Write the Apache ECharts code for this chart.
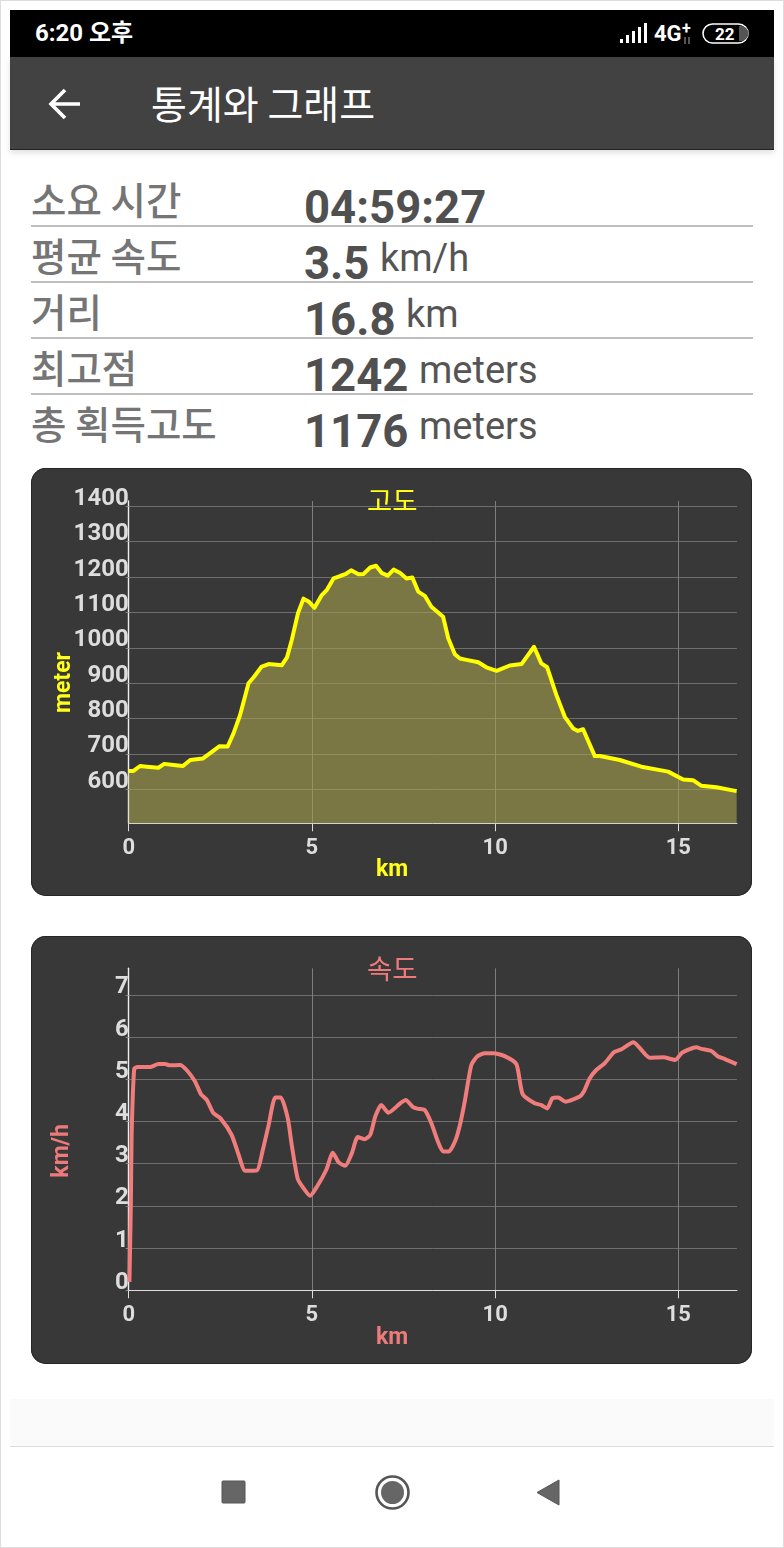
<!DOCTYPE html>
<html><head><meta charset="utf-8">
<script src="https://cdn.jsdelivr.net/npm/echarts@6/dist/echarts.min.js"></script>
<style>
html,body{margin:0;padding:0;background:#fff}
#page{position:relative;width:784px;height:1548px;overflow:hidden;background:#fff;font-family:Roboto,"Noto Sans CJK KR",sans-serif}
#frame{position:absolute;left:0;top:0;width:782px;height:1546px;border:1px solid #ddd;pointer-events:none}
.abs{position:absolute;white-space:nowrap}
.lab{font-family:"Noto Sans CJK KR";font-weight:500;font-size:38.5px;color:#757575;left:31px;line-height:48px;height:48px}
.val{font-family:Roboto;font-weight:700;font-size:45.5px;color:#505050;left:304px;line-height:50px;height:50px}
.unit{font-family:Roboto;font-size:38px;color:#555;line-height:44px;height:44px}
.rule{left:31px;width:722px;height:2px;background:#bdbdbd}
.card{position:absolute;left:31px;width:721px;height:428px;background:#383838;border-radius:15px;box-shadow:inset 0 0 0 1px #262626}
.chart{position:absolute;left:0;top:0;width:721px;height:428px}
</style></head><body>
<div id="page">
  <div class="abs" style="left:10px;top:10px;width:764px;height:47px;background:#000"></div>
  <div class="abs" style="left:10px;top:57px;width:764px;height:92px;background:#424242;border-bottom:1px solid #222;box-shadow:0 3px 6px rgba(0,0,0,.12)"></div>
  <div class="abs" style="left:35px;top:16px;font:700 24px/34px Roboto,'Noto Sans CJK KR';color:#fff">6:20 오후</div>
  <svg class="abs" style="left:618px;top:20px" width="140" height="28" viewBox="0 0 140 28">
    <g fill="#fff"><rect x="2" y="19" width="3" height="4"/><rect x="8" y="15" width="3" height="8"/><rect x="14" y="11" width="3" height="12"/><rect x="20" y="7" width="3" height="16"/><rect x="26" y="3" width="3" height="20"/></g>
    <text x="36" y="21" fill="#fff" font-family="Roboto" font-weight="700" font-size="22">4G</text>
    <text x="64" y="14" fill="#fff" font-family="Roboto" font-weight="700" font-size="16">+</text>
    <path d="M67 17v7M71 17v7" stroke="#aaa" stroke-width="1"/>
    <rect x="85" y="4" width="45" height="19" rx="9.5" fill="none" stroke="#fff" stroke-width="1.6"/>
    <path d="M121 6h2a7.5 7.5 0 0 1 0 15h-2z" fill="#555"/>
    <text x="97" y="20" fill="#fff" font-family="Roboto" font-weight="700" font-size="17">22</text>
  </svg>
  <svg class="abs" style="left:47px;top:86px" width="38" height="36" viewBox="0 0 38 36"><path d="M33 18H5M18 4L4 18l14 14" fill="none" stroke="#fff" stroke-width="3.6"/></svg>
  <div class="abs" style="left:151px;top:77px;font:400 39px/50px 'Noto Sans CJK KR';color:#fff">통계와 그래프</div>

  <div class="abs lab" style="top:174px">소요 시간</div>
  <div class="abs val" style="top:183px">04:59:27</div>
  <div class="abs rule" style="top:225px"></div>
  <div class="abs lab" style="top:230px">평균 속도</div>
  <div class="abs val" style="top:239px">3.5</div>
  <div class="abs unit" style="left:380px;top:236px">km/h</div>
  <div class="abs rule" style="top:281px"></div>
  <div class="abs lab" style="top:286px">거리</div>
  <div class="abs val" style="top:295px">16.8</div>
  <div class="abs unit" style="left:406px;top:292px">km</div>
  <div class="abs rule" style="top:337px"></div>
  <div class="abs lab" style="top:342px">최고점</div>
  <div class="abs val" style="top:351px">1242</div>
  <div class="abs unit" style="left:419px;top:348px">meters</div>
  <div class="abs rule" style="top:393px"></div>
  <div class="abs lab" style="top:398px">총 획득고도</div>
  <div class="abs val" style="top:407px">1176</div>
  <div class="abs unit" style="left:419px;top:404px">meters</div>

  <div class="card" style="top:468px"><div class="chart" id="elev"></div></div>
  <div class="card" style="top:936px"><div class="chart" id="speed"></div></div>

  <div class="abs" style="left:10px;top:1399px;width:764px;height:47px;background:#fafafa"></div>
  <div class="abs" style="left:10px;top:1446px;width:764px;height:1px;background:#ddd"></div>
  <svg class="abs" style="left:210px;top:1470px" width="370" height="44" viewBox="0 0 370 44">
    <rect x="12" y="11" width="23" height="22" rx="1" fill="#666" stroke="#555"/>
    <circle cx="182.5" cy="22.5" r="16" fill="none" stroke="#555" stroke-width="2.6"/>
    <circle cx="182.5" cy="22.5" r="11.5" fill="#666"/>
    <path d="M349 10v25L327 22.5z" fill="#666" stroke="#555" stroke-linejoin="round"/>
  </svg>
  <div id="frame"></div>
</div>
<script>
const elevKm = [0,.13,.31,.49,.81,.97,1.22,1.48,1.68,2.02,2.27,2.48,2.70,2.86,3.04,3.27,3.41,3.63,3.82,4.18,4.32,4.45,4.62,4.77,4.91,5.07,5.27,5.41,5.59,5.77,5.91,6.07,6.27,6.41,6.59,6.75,6.91,7.07,7.23,7.40,7.58,7.74,7.90,8.08,8.26,8.58,8.72,8.90,9.04,9.22,9.54,9.76,10.04,10.40,10.72,11.06,11.26,11.42,11.67,11.90,12.13,12.26,12.40,12.72,12.86,13.40,13.99,14.72,15.13,15.40,15.63,16.04,16.59];
const elevM = [652,652,666,664,661,672,669,666,683,687,706,722,721,758,810,900,917,947,954,951,973,1022,1098,1139,1131,1113,1149,1164,1196,1203,1208,1219,1208,1209,1227,1232,1211,1204,1221,1212,1196,1199,1159,1147,1116,1088,1027,982,970,966,959,945,935,950,954,1003,956,945,867,805,772,765,770,694,694,683,664,650,628,626,610,606,595];
const speedKm = [.02,.06,.08,.15,.24,.58,.81,.99,1.13,1.40,1.58,1.81,1.97,2.13,2.31,2.50,2.81,3.00,3.18,3.50,3.65,3.82,4.00,4.15,4.34,4.45,4.61,4.77,4.95,5.14,5.39,5.57,5.73,5.91,6.09,6.25,6.43,6.59,6.73,6.89,7.09,7.41,7.56,7.76,7.90,8.08,8.26,8.44,8.58,8.74,8.92,9.05,9.17,9.35,9.51,9.72,9.95,10.26,10.58,10.75,11.08,11.26,11.42,11.56,11.72,11.92,12.31,12.42,12.58,12.76,12.99,13.24,13.45,13.77,14.22,14.58,14.92,15.10,15.49,15.63,15.90,16.08,16.27,16.59];
const speedV = [.2,2.1,3.68,5.25,5.29,5.29,5.36,5.36,5.33,5.34,5.22,4.95,4.65,4.51,4.20,4.08,3.68,3.21,2.83,2.84,3.29,3.92,4.57,4.57,4.08,3.44,2.65,2.42,2.24,2.46,2.85,3.26,3.03,2.95,3.25,3.63,3.58,3.68,4.12,4.39,4.21,4.43,4.51,4.34,4.30,4.27,3.96,3.52,3.29,3.29,3.56,3.96,4.47,5.34,5.54,5.62,5.62,5.55,5.36,4.65,4.43,4.39,4.31,4.55,4.57,4.47,4.59,4.71,5.02,5.22,5.38,5.64,5.71,5.88,5.51,5.52,5.46,5.63,5.76,5.72,5.67,5.54,5.48,5.36];
const kmTicks = [0,5,10,15];
const elevTicks = [600,700,800,900,1000,1100,1200,1300,1400];
const speedTicks = [0,1,2,3,4,5,6,7];
const zip = (a,b)=>a.map((v,i)=>[v,b[i]]);

function build(o){
  return {
    animation:false,
    grid:{left:97.7,top:o.gridTop,width:608.3,height:o.gridH,containLabel:false},
    title:{text:o.title,left:331,top:14,textStyle:{color:o.color,fontFamily:'"Noto Sans CJK KR"',fontSize:27.5,fontWeight:400}},
    xAxis:{type:'value',min:0,max:16.6,
      axisLine:{show:true,onZero:false,lineStyle:{color:'#ddd',width:1}},
      axisTick:{show:true,length:8,customValues:kmTicks,lineStyle:{color:'#ddd',width:1}},
      axisLabel:{customValues:kmTicks,margin:14,color:'#ddd',fontFamily:'Roboto',fontWeight:700,fontSize:22,formatter:v=>String(v)},
      splitLine:{show:true,lineStyle:{color:'#7e7e7e',width:1}}},
    yAxis:{type:'value',min:o.yMin,max:o.yMax,
      axisLine:{show:true,onZero:false,lineStyle:{color:'#eee',width:1.4}},
      axisTick:{show:true,length:3,customValues:o.ticks,lineStyle:{color:'#888',width:1}},
      axisLabel:{customValues:o.ticks,margin:0,align:'right',verticalAlign:'bottom',lineHeight:15,color:'#ddd',fontFamily:'Roboto',fontWeight:700,fontSize:24,formatter:v=>String(v)},
      splitLine:{show:true,lineStyle:{color:'#6e6e6e',width:1}}},
    graphic:[
      {type:'text',left:o.unitLeft,top:o.unitTop,rotation:Math.PI/2,style:{text:o.unit,fill:o.color,font:'700 23px Roboto'}},
      {type:'text',left:345,top:391,style:{text:'km',fill:o.color,font:'700 23px Roboto'}}
    ],
    series:[{type:'line',data:o.data,showSymbol:false,smooth:o.smooth,clip:true,
      lineStyle:{color:o.line,width:4,join:'round'},
      areaStyle:o.area?{color:o.area,opacity:1,origin:'start'}:undefined}]
  };
}
echarts.init(document.getElementById('elev'),null,{renderer:'canvas'}).setOption(build({
  title:'고도',color:'#ffff19',line:'#ffff00',area:'rgba(168,161,76,0.6)',gridTop:33,gridH:322.3,smooth:false,
  yMin:504,yMax:1415,ticks:elevTicks,data:zip(elevKm,elevM),unit:'meter',unitLeft:22,unitTop:184}));
echarts.init(document.getElementById('speed'),null,{renderer:'canvas'}).setOption(build({
  title:'속도',color:'#ee7b7b',line:'#f07c7c',gridTop:32.3,gridH:322,smooth:0.2,
  yMin:0,yMax:7.63,ticks:speedTicks,data:zip(speedKm,speedV),unit:'km/h',unitLeft:20,unitTop:188}));
</script>
</body></html>
